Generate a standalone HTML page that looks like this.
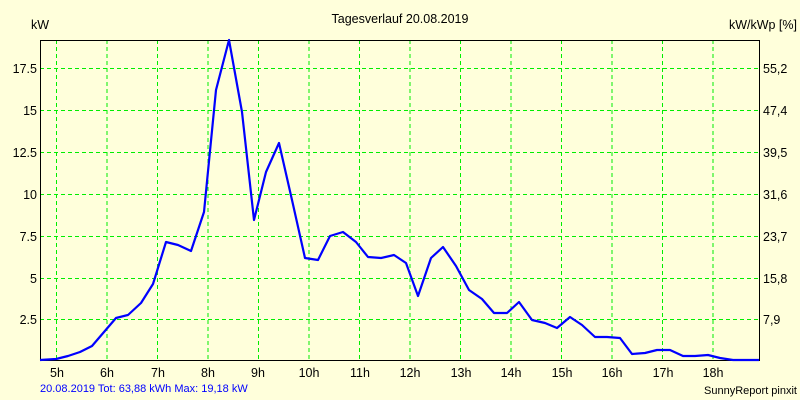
<!DOCTYPE html><html><head><style>body{margin:0;background:#ffffdb}svg{display:block}text{font-family:"Liberation Sans",sans-serif;font-size:12.5px;fill:#000}</style></head><body>
<svg width="800" height="400" viewBox="0 0 800 400">
<rect width="800" height="400" fill="#ffffdb"/>
<text x="400" y="23" text-anchor="middle">Tagesverlauf 20.08.2019</text>
<text x="31" y="29">kW</text>
<text x="797" y="29" text-anchor="end">kW/kWp [%]</text>
<g stroke="#00ee00" stroke-dasharray="4,3" stroke-width="1">
<path d="M56.5 40V360M107 40V360M157.5 40V360M208 40V360M258.5 40V360M309 40V360M359.5 40V360M410 40V360M460.5 40V360M511 40V360M561.5 40V360M612 40V360M662.5 40V360M713 40V360"/>
<path d="M40 68.5H759M40 110.5H759M40 152.5H759M40 194.5H759M40 236.5H759M40 278.5H759M40 319.5H759"/>
</g>
<rect x="40.5" y="40.5" width="719" height="320" fill="none" stroke="#000"/>
<g text-anchor="end">
<text x="37" y="73">17.5</text><text x="37" y="115">15</text><text x="37" y="157">12.5</text><text x="37" y="199">10</text><text x="37" y="241">7.5</text><text x="37" y="283">5</text><text x="37" y="324">2.5</text>
</g>
<g>
<text x="763" y="73">55,2</text><text x="763" y="115">47,4</text><text x="763" y="157">39,5</text><text x="763" y="199">31,6</text><text x="763" y="241">23,7</text><text x="763" y="283">15,8</text><text x="763" y="324">7,9</text>
</g>
<g text-anchor="middle">
<text x="57" y="377">5h</text><text x="107" y="377">6h</text><text x="158" y="377">7h</text><text x="208" y="377">8h</text><text x="258" y="377">9h</text><text x="309" y="377">10h</text><text x="360" y="377">11h</text><text x="410" y="377">12h</text><text x="461" y="377">13h</text><text x="511" y="377">14h</text><text x="562" y="377">15h</text><text x="612" y="377">16h</text><text x="663" y="377">17h</text><text x="713" y="377">18h</text>
</g>
<text x="40" y="392" style="fill:#0000ff;font-size:11px">20.08.2019 Tot: 63,88 kWh Max: 19,18 kW</text>
<text x="797" y="394" text-anchor="end" style="font-size:11px">SunnyReport pinxit</text>
<polyline fill="none" stroke="#0000ff" stroke-width="2.2" stroke-linejoin="round" points="40,360 56,359 68,356 80,352 92,346 104,332 116,318 128,315 141,303 153,284 166,242 178,245 191,251 204,212 216,90 229,40 242,112 254,220 266,172 279,143 292,200 305,258 318,260 330,236 343,232 356,242 368,257 381,258 394,255 406,263 418,296 431,258 443,247 456,266 469,290 482,299 494,313 507,313 519,302 532,320 545,323 557,328 570,317 582,325 595,337 607,337 620,338 632,354 645,353 657,350 670,350 683,356 695,356 708,355 720,358 733,360 759,360"/>
</svg></body></html>
